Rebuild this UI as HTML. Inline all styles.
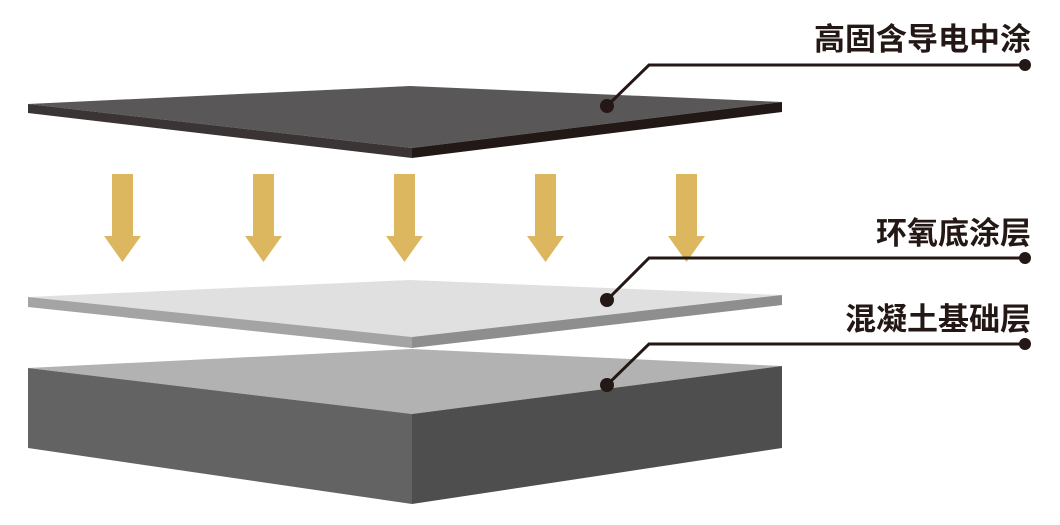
<!DOCTYPE html>
<html><head><meta charset="utf-8"><style>
html,body{margin:0;padding:0;background:#fff;width:1060px;height:525px;overflow:hidden}
text{font-family:"Liberation Sans","Noto Sans CJK SC",sans-serif;font-size:31px;font-weight:bold;fill:#231815}
</style></head><body>
<svg width="1060" height="525" viewBox="0 0 1060 525" xmlns="http://www.w3.org/2000/svg">
<!-- concrete base -->
<polygon points="28,368 412,349 782,366 412,414" fill="#b2b2b2"/>
<polygon points="28,368 412,414 412,504 28,448" fill="#636363"/>
<polygon points="412,414 782,366 782,448 412,504" fill="#4e4e4e"/>
<!-- epoxy layer -->
<polygon points="28,297 410,280 782,295 412,337" fill="#e0e0e0"/>
<polygon points="28,297 412,337 412,348 28,307" fill="#a4a4a4"/>
<polygon points="412,337 782,295 782,305 412,348" fill="#8e8e8e"/>
<!-- top coating -->
<polygon points="28,104 410,86 782,102 412,148" fill="#595757"/>
<polygon points="28,104 412,148 412,158 28,113" fill="#3a3434"/>
<polygon points="412,148 782,102 782,112 412,158" fill="#221815"/>
<!-- arrows -->
<g fill="#dcb760">
<g id="a"><rect x="112" y="174" width="21" height="62"/><polygon points="104,236 141,236 122.5,262"/></g>
<use href="#a" x="141"/><use href="#a" x="282"/><use href="#a" x="423"/><use href="#a" x="564"/>
</g>
<!-- leader lines -->
<g stroke="#231815" stroke-width="3" fill="none">
<polyline points="607,106 649,65 1025,65"/>
<polyline points="607,300 649,258 1025,258"/>
<polyline points="607,385 649,344 1025,344"/>
</g>
<g fill="#231815">
<circle cx="607" cy="106" r="7"/><circle cx="1025" cy="65" r="6"/>
<circle cx="607" cy="300" r="7"/><circle cx="1025" cy="258" r="6"/>
<circle cx="607" cy="385" r="7"/><circle cx="1025" cy="344" r="6"/>
</g>
<text x="1031" y="50" text-anchor="end">高固含导电中涂</text>
<text x="1031" y="244" text-anchor="end">环氧底涂层</text>
<text x="1031" y="330" text-anchor="end">混凝土基础层</text>
</svg>
</body></html>
